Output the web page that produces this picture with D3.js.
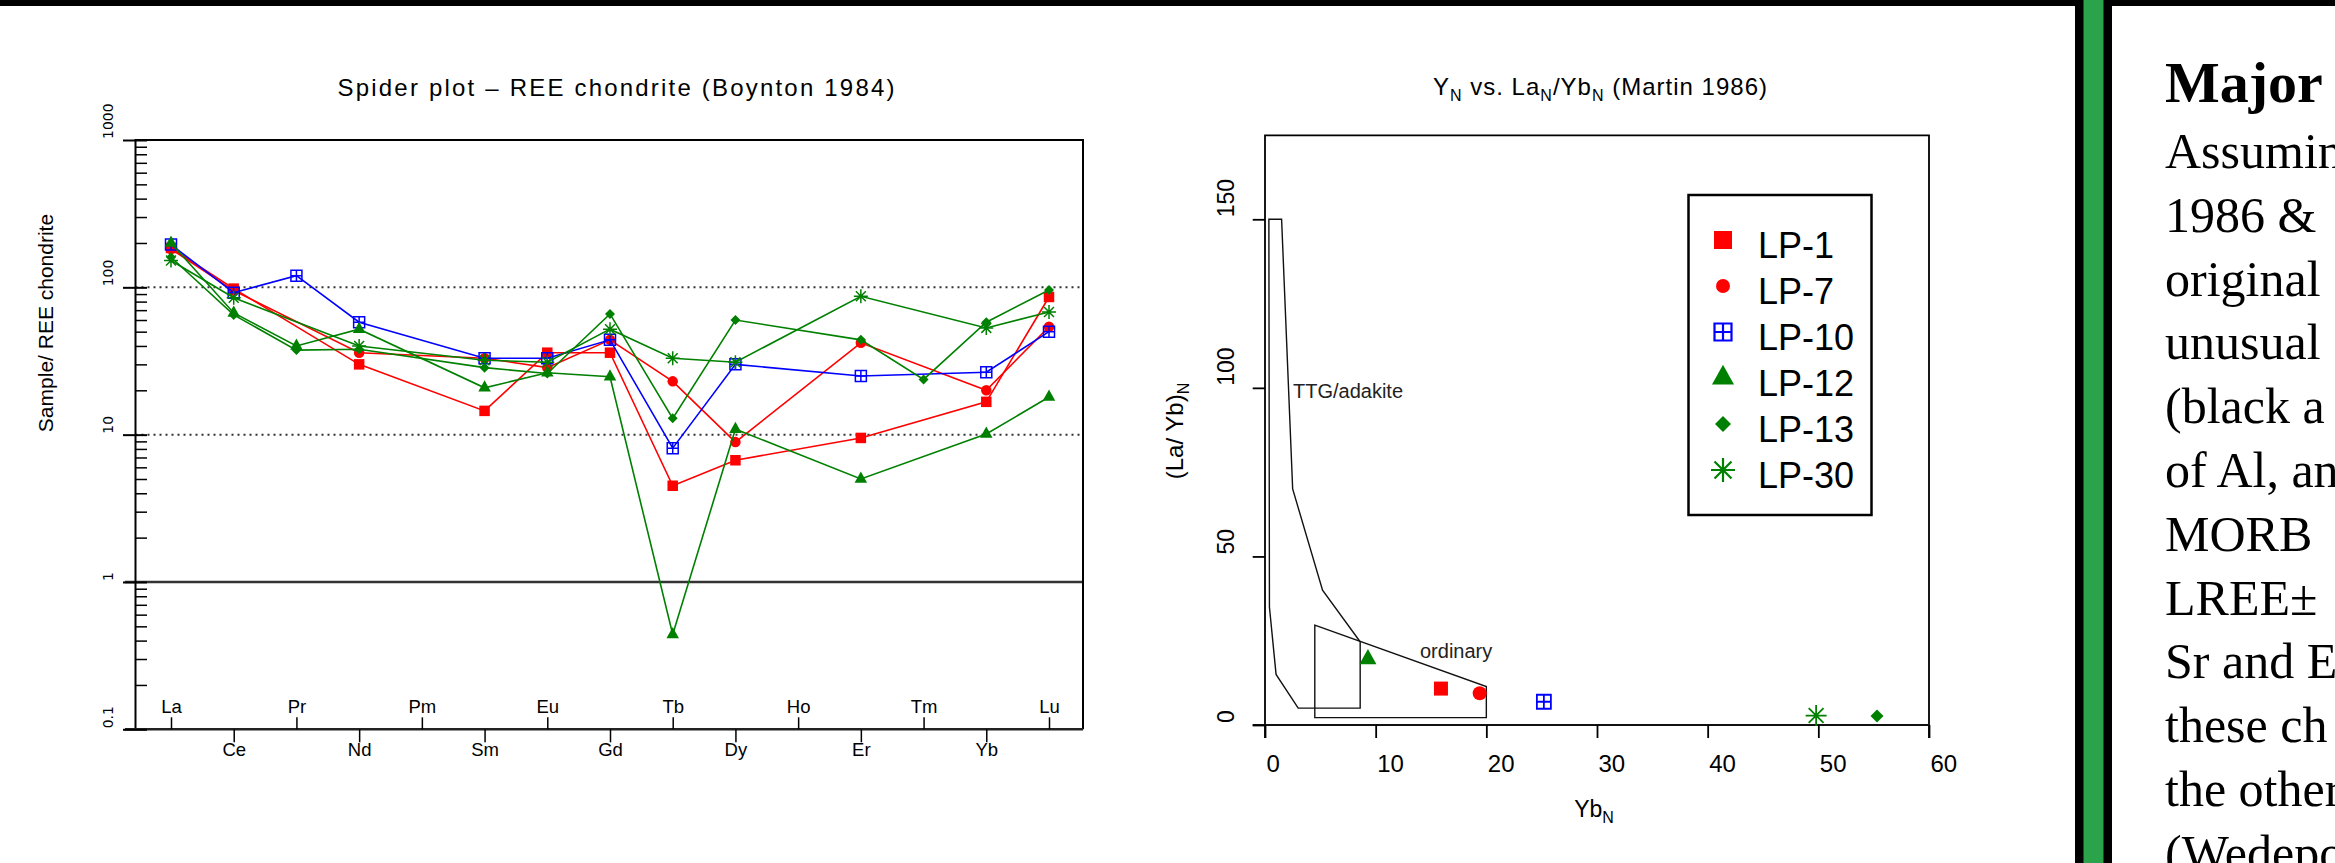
<!DOCTYPE html>
<html><head><meta charset="utf-8">
<script src="https://cdn.jsdelivr.net/npm/d3@7"></script>
<style>html,body{margin:0;padding:0;background:#fff;overflow:hidden;} svg{display:block;}</style>
</head><body>
<svg id="c" width="2335" height="863"></svg>
<script>
// ---------- DATA ----------
const elements = ["La","Ce","Pr","Nd","Pm","Sm","Eu","Gd","Tb","Dy","Ho","Er","Tm","Yb","Lu"];
const samples  = ["LP-1","LP-7","LP-10","LP-12","LP-13","LP-30"];
// chondrite-normalised REE (null = not plotted)
const LP1  = [185, 98, null, 30, null, 14.5, 36, 36, 4.5, 6.7, null, 9.5, null, 16.7, 86];
const LP7  = [182, 95, null, 36, null, 33, 28.5, 44, 23, 8.9, null, 42, null, 20, 54];
const LP10 = [195, 92, 120, 58, null, 33, 33, 44, 8.1, 30, null, 25, null, 26.5, 50];
const LP12 = [200, 67, 40, 52, null, 20.8, 26.3, 24.7, 0.44, 10.9, null, 5.0, null, 10.1, 18];
const LP13 = [160, 65, 37.5, 38, null, 28.5, 26, 66, 12.9, 60, null, 44, 23.7, 58, 96];
const LP30 = [152, 85, null, 40, null, 32, 31, 52, 33, 31, null, 87, null, 53, 68];
// Martin 1986 diagram
const ybN   = [15.9, 19.4, 25.2, 9.3, 55.3, 49.8];
const laybN = [10.8, 9.4, 6.9, 19.5, 2.7, 2.8];
const spiderYTicks = [0.1, 1, 10, 100, 1000];
const martinXTicks = [0, 10, 20, 30, 40, 50, 60];
const martinYTicks = [0, 50, 100, 150];
const ttgField = [[0.35,150],[1.5,150],[2.5,70],[5.2,40],[8.6,24.7],[8.6,5],[3,5],[1,15],[0.4,35]];
const ordinaryField = [[4.5,29.6],[20,11.4],[20,2.2],[4.5,2.2]];
const panelHeading = "Major";
const panelLines = ["Assumin","1986 &","original","unusual","(black a","of Al, an","MORB","LREE\u00b1","Sr and E","these ch","the other","(Wedepo"];

// ---------- STYLE ----------
const seriesValues = [LP1, LP7, LP10, LP12, LP13, LP30];
const colors  = ["#ff0000","#ff0000","#0000ff","#008000","#008000","#008000"];
const shapes  = ["square","circle","boxplus","triangle","diamond","asterisk"];
const SANS = "'Liberation Sans', Arial, sans-serif";
const SERIF = "'Liberation Serif', 'Times New Roman', serif";

const svg = d3.select("#c");

function markerPath(shape, s) {
  const h = s/2;
  switch (shape) {
    case "square": return `M${-h},${-h}h${s}v${s}h${-s}Z`;
    case "boxplus": return `M${-h},${-h}h${s}v${s}h${-s}Z M0,${-h}V${h} M${-h},0H${h}`;
    case "triangle": { const t = s*0.9; return `M0,${-t*2/3}L${h},${t/3}L${-h},${t/3}Z`; }
    case "diamond": return `M0,${-h}L${h},0L0,${h}L${-h},0Z`;
    case "asterisk": { const d = h*0.7071;
      return `M${-h},0H${h}M0,${-h}V${h}M${-d},${-d}L${d},${d}M${-d},${d}L${d},${-d}`; }
  }
}
function drawMarker(g, shape, color, x, y, s, sw) {
  if (shape === "circle") {
    g.append("circle").attr("cx", x).attr("cy", y).attr("r", s/2).attr("fill", color);
    return;
  }
  const p = g.append("path").attr("d", markerPath(shape, s)).attr("transform", `translate(${x},${y})`);
  if (shape === "boxplus" || shape === "asterisk") p.attr("fill","none").attr("stroke", color).attr("stroke-width", sw);
  else p.attr("fill", color);
}

// ---------- FRAME / DECOR ----------
svg.append("rect").attr("x",0).attr("y",0).attr("width",2335).attr("height",6).attr("fill","#000");
svg.append("rect").attr("x",2075).attr("y",0).attr("width",37).attr("height",863).attr("fill","#000");
svg.append("rect").attr("x",2083.5).attr("y",0).attr("width",20).attr("height",863).attr("fill","#2ba34a");

// ---------- SPIDER PLOT ----------
const sx = d3.scalePoint().domain(elements).range([171, 1049]);
const sy = d3.scaleLog().domain([0.1, 1000]).range([729.3, 140]);
const L = 135.5, R = 1083, T = 140, B = 729.3;
const sp = svg.append("g");

sp.append("text").attr("x", 616).attr("y", 96).attr("text-anchor","middle")
  .attr("font-family", SANS).attr("font-size", 24)
  .attr("textLength", 557).attr("lengthAdjust","spacing")
  .text("Spider plot \u2013 REE chondrite (Boynton 1984)");

// reference lines
[10, 100].forEach(v => {
  sp.append("line").attr("x1", L).attr("x2", R).attr("y1", sy(v)).attr("y2", sy(v))
    .attr("stroke","#333").attr("stroke-width",2).attr("stroke-dasharray","2,4");
});
sp.append("line").attr("x1", 125).attr("x2", R).attr("y1", sy(1)).attr("y2", sy(1))
  .attr("stroke","#333").attr("stroke-width",2.5);

// box
sp.append("path").attr("d", `M${L},${B}V${T}H${R}V${B}`).attr("fill","none").attr("stroke","#000").attr("stroke-width",2);
sp.append("line").attr("x1",125).attr("x2",R).attr("y1",B).attr("y2",B).attr("stroke","#222").attr("stroke-width",2.5);

// y axis ticks (major cross the axis, minor inside)
const minor = [];
for (let e = -1; e < 3; e++) for (let m = 2; m <= 9; m++) minor.push(m * Math.pow(10, e));
sp.append("g").attr("transform", `translate(123,0)`)
  .call(d3.axisRight(sy).tickValues(spiderYTicks).tickSize(24).tickFormat(""))
  .call(g => g.select(".domain").remove())
  .selectAll("line").attr("stroke","#000").attr("stroke-width",2);
sp.append("g").attr("transform", `translate(${L},0)`)
  .call(d3.axisRight(sy).tickValues(minor).tickSize(11.5).tickFormat(""))
  .call(g => g.select(".domain").remove())
  .selectAll("line").attr("stroke","#000").attr("stroke-width",1.5);
spiderYTicks.forEach(v => {
  sp.append("text").attr("transform", `translate(113,${sy(v) - 1}) rotate(-90)`)
    .attr("font-family", "'DejaVu Sans', sans-serif").attr("font-size", 14).attr("text-anchor","start")
    .text(v === 0.1 ? "0.1" : String(v));
});
sp.append("text").attr("transform", `translate(53,323) rotate(-90)`).attr("text-anchor","middle")
  .attr("font-family", SANS).attr("font-size", 21).text("Sample/ REE chondrite");

// x axis: staggered element labels
const topEls = elements.filter((d,i) => i % 2 === 0);
const botEls = elements.filter((d,i) => i % 2 === 1);
const gTop = sp.append("g").attr("transform", `translate(0,${B})`)
  .call(d3.axisTop(sx).tickValues(topEls).tickSize(12).tickPadding(4));
const gBot = sp.append("g").attr("transform", `translate(0,${B})`)
  .call(d3.axisBottom(sx).tickValues(botEls).tickSize(13).tickPadding(1));
[gTop, gBot].forEach(g => {
  g.select(".domain").remove();
  g.selectAll("line").attr("stroke","#000").attr("stroke-width",1.5);
  g.selectAll("text").attr("font-family", SANS).attr("font-size", 18.5).attr("fill","#000");
});

// series
const line = d3.line().x(d => sx(d.el)).y(d => sy(d.v));
samples.forEach((s, i) => {
  const pts = elements.map((el, j) => ({el, v: seriesValues[i][j]})).filter(d => d.v != null);
  const g = sp.append("g");
  g.append("path").attr("d", line(pts)).attr("fill","none").attr("stroke", colors[i]).attr("stroke-width",1.6);
  const sizes = {square:10.5, circle:10.5, boxplus:11, triangle:12.5, diamond:10, asterisk:14};
  pts.forEach(d => drawMarker(g, shapes[i], colors[i], sx(d.el), sy(d.v), sizes[shapes[i]], 1.5));
});

// ---------- MARTIN 1986 ----------
const mx = d3.scaleLinear().domain([0, 60]).range([1265, 1929]);
const my = d3.scaleLinear().domain([0, 175]).range([725, 135]);
const mp = svg.append("g");

// title with subscripts
const tt = mp.append("text").attr("x", 1600).attr("y", 95).attr("text-anchor","middle")
  .attr("font-family", SANS).attr("font-size", 24)
  .attr("textLength", 334).attr("lengthAdjust","spacing");
tt.append("tspan").text("Y");
tt.append("tspan").attr("font-size",16).attr("dy",6).text("N");
tt.append("tspan").attr("dy",-6).text(" vs. La");
tt.append("tspan").attr("font-size",16).attr("dy",6).text("N");
tt.append("tspan").attr("dy",-6).text("/Yb");
tt.append("tspan").attr("font-size",16).attr("dy",6).text("N");
tt.append("tspan").attr("dy",-6).text(" (Martin 1986)");

// box
mp.append("path").attr("d", `M${mx(0)},${738}V${my(174.9)}H${mx(60)}V${738}`)
  .attr("fill","none").attr("stroke","#000").attr("stroke-width",1.8);
mp.append("line").attr("x1",1252.7).attr("x2",mx(60)).attr("y1",my(0)).attr("y2",my(0))
  .attr("stroke","#111").attr("stroke-width",2.2);

// x axis
const gx = mp.append("g").attr("transform", `translate(0,${my(0)})`)
  .call(d3.axisBottom(mx).tickValues(martinXTicks).tickSize(13));
gx.select(".domain").remove();
gx.selectAll("line").attr("stroke","#000").attr("stroke-width",1.8);
gx.selectAll("text").attr("font-family", SANS).attr("font-size", 24).attr("fill","#000")
  .attr("text-anchor","start").attr("x", 1).attr("y", 46.7).attr("dy", 0);

// y axis
const gy = mp.append("g").attr("transform", `translate(${mx(0)},0)`)
  .call(d3.axisLeft(my).tickValues(martinYTicks).tickSize(12.3).tickFormat(""));
gy.select(".domain").remove();
gy.selectAll("line").attr("stroke","#000").attr("stroke-width",1.8);
martinYTicks.forEach(v => {
  mp.append("text").attr("transform", `translate(1233.5,${my(v) - 2})rotate(-90)`)
    .attr("font-family", SANS).attr("font-size", 23).attr("text-anchor","start").text(String(v));
});

// axis titles
const xt = mp.append("text").attr("x", 1594).attr("y", 817).attr("text-anchor","middle")
  .attr("font-family", SANS).attr("font-size", 23);
xt.append("tspan").text("Yb");
xt.append("tspan").attr("font-size",16).attr("dy",6).text("N");
const yt = mp.append("text").attr("transform", "translate(1183,431) rotate(-90)").attr("text-anchor","middle")
  .attr("font-family", SANS).attr("font-size", 24);
yt.append("tspan").text("(La/ Yb)");
yt.append("tspan").attr("font-size",16).attr("dy",6).text("N");

// fields
const fieldLine = d3.line().x(d => mx(d[0])).y(d => my(d[1]));
mp.append("path").attr("d", fieldLine(ttgField) + "Z").attr("fill","none").attr("stroke","#111").attr("stroke-width",1.4);
mp.append("path").attr("d", fieldLine(ordinaryField) + "Z").attr("fill","none").attr("stroke","#111").attr("stroke-width",1.4);
mp.append("text").attr("x", 1293).attr("y", 398).attr("font-family", SANS).attr("font-size", 20)
  .attr("fill","#222").text("TTG/adakite");
mp.append("text").attr("x", 1420).attr("y", 658).attr("font-family", SANS).attr("font-size", 20)
  .attr("fill","#222").text("ordinary");

// points
const msz = {square:14, circle:14, boxplus:14, triangle:17, diamond:13, asterisk:21};
samples.forEach((s, i) => {
  drawMarker(mp, shapes[i], colors[i], mx(ybN[i]), my(laybN[i]), msz[shapes[i]], 1.8);
});

// legend
const lg = mp.append("g");
lg.append("rect").attr("x",1688.5).attr("y",195).attr("width",183).attr("height",320)
  .attr("fill","#fff").attr("stroke","#000").attr("stroke-width",2.5);
const lsz = {square:18, circle:14, boxplus:17, triangle:22, diamond:16, asterisk:24};
samples.forEach((s, i) => {
  const base = 258 + 46 * i;
  drawMarker(lg, shapes[i], colors[i], 1723, base - 18, lsz[shapes[i]], 2.2);
  lg.append("text").attr("x", 1758).attr("y", base).attr("font-family", SANS).attr("font-size", 36).text(s);
});

// ---------- TEXT PANEL ----------
const tp = svg.append("g");
tp.append("text").attr("x", 2165).attr("y", 102).attr("font-family", SERIF).attr("font-weight","bold")
  .attr("font-size", 58).text(panelHeading);
panelLines.forEach((t, i) => {
  tp.append("text").attr("x", 2165).attr("y", 168 + 63.8 * i).attr("font-family", SERIF)
    .attr("font-size", 50).text(t);
});
</script>
</body></html>
